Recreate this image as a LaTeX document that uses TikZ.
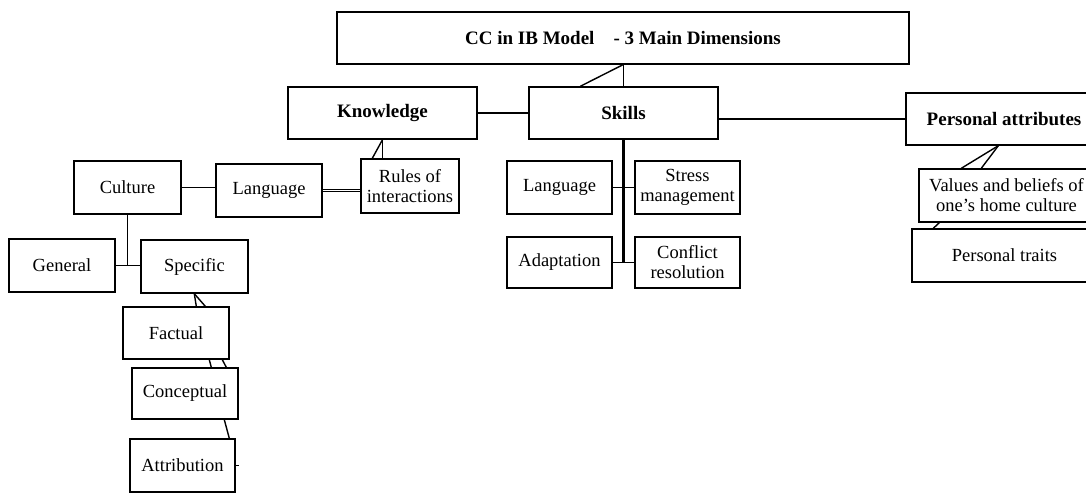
\documentclass[tikz,border=0pt]{standalone}
\usepackage{fontspec}
\setmainfont{Liberation Serif}
\usetikzlibrary{calc}
\begin{document}
\begin{tikzpicture}[x=1pt,y=-1pt,
  box/.style={draw, line width=1.4pt, inner sep=0pt, align=center,
    font=\fontsize{18.5}{20}\selectfont},
  bbox/.style={box, font=\fontsize{19}{21}\selectfont\bfseries},
  sz/.style 2 args={minimum width=#1pt, minimum height=#2pt},
  link/.style={line width=1.4pt},
  spine/.style={line width=2.8pt},
  dbl/.style={double, double distance=1.6pt, line width=1pt}]
\useasboundingbox (0,0) rectangle (1086,493);
\clip (0,0) rectangle (1086,493);

% top level
\node[bbox, sz={572}{52}] (title) at (623,38) {CC in IB Model\hspace{1em}- 3 Main Dimensions};
\node[bbox, sz={189}{52}] (know) at (382.5,113) {Knowledge};
\node[bbox, sz={189}{52}] (skills) at (623.5,113) {Skills};
\node[bbox, sz={196}{52}] (pa) at (1004,119) {Personal attributes};

% knowledge branch
\node[box, sz={98}{54}] (rules) at (410,186) {Rules of\\interactions};
\node[box, sz={106}{53}] (lang1) at (269,190.5) {Language};
\node[box, sz={107}{53}] (culture) at (127.5,187.5) {Culture};
\node[box, sz={106}{53}] (general) at (62,265.5) {General};
\node[box, sz={107}{53}] (specific) at (194.5,266.5) {Specific};
\node[box, sz={106}{52}] (factual) at (176,333) {Factual};
\node[box, sz={106}{51}] (conceptual) at (185,393.5) {Conceptual};
\node[box, sz={105}{53}] (attribution) at (182.5,465.5) {Attribution};

% skills branch
\node[box, sz={105}{53}] (lang2) at (559.5,187.5) {Language};
\node[box, sz={105}{53}] (stress) at (687.5,187.5) {Stress\\management};
\node[box, sz={105}{51}] (adapt) at (559.5,262.5) {Adaptation};
\node[box, sz={105}{51}] (conflict) at (687.5,262.5) {Conflict\\resolution};

% personal attributes branch
\node[box, sz={175}{53}] (values) at (1006.5,195.5) {Values and beliefs of\\one’s home culture};
\node[box, sz={185}{53}] (traits) at (1004.5,255.5) {Personal traits};

% connectors: top level
\draw[link] (title.south -| skills.north) -- (skills.north);
\draw[link] (title.south) -- ($(skills.north west)+(52,0)$);
\draw[link] (know.east) -- (skills.west);
\draw[link] (skills.east |- pa.west) -- (pa.west);

% connectors: knowledge
\draw[link] (know.south) -- (know.south |- rules.north);
\draw[link] (know.south) -- ($(rules.north west)+(12,0)$);
\draw[dbl] (lang1.east) -- (lang1.east -| rules.west);
\draw[link] (culture.east) -- (culture.east -| lang1.west);
\draw[link] (culture.south) -- (culture.south |- general.east);
\draw[link] (general.east) -- (general.east -| specific.west);
\draw[link] ($(specific.south west)+(54,0)$) -- ($(factual.north west)+(74,0)$);
\draw[link] ($(specific.south west)+(54,0)$) -- ($(factual.north west)+(83,0)$);
\draw[link] ($(factual.south west)+(87,0)$) -- ($(conceptual.north west)+(80,0)$);
\draw[link] ($(factual.south west)+(100,0)$) -- ($(conceptual.north west)+(95,0)$);
\draw[link] ($(conceptual.south west)+(93,0)$) -- ($(attribution.north west)+(100,0)$);
\coordinate (stub) at ($(attribution.east)+(3,0)$);
\draw[link] (attribution.east) -- (stub);

% connectors: skills
\draw[spine] (skills.south) -- (skills.south |- adapt.east);
\draw[link] (lang2.east) -- (stress.west);
\draw[link] (adapt.east) -- (conflict.west);

% connectors: personal attributes
\draw[link] ($(pa.south west)+(93,0)$) -- ($(values.north west)+(43,0)$);
\draw[link] ($(pa.south west)+(93,0)$) -- ($(values.north west)+(63,0)$);
\draw[link] ($(values.south west)+(21,0)$) -- ($(traits.north west)+(22,0)$);
\end{tikzpicture}
\end{document}
